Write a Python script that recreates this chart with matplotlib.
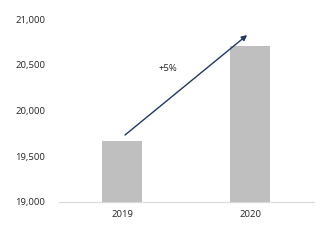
import matplotlib
matplotlib.use('Agg')
import matplotlib.pyplot as plt

plt.rcParams['font.family'] = ['Open Sans', 'DejaVu Sans']

years = ['2019', '2020']
values = [19670, 20705]
yticks = [19000, 19500, 20000, 20500, 21000]
growth_label = '+5%'

fig = plt.figure(figsize=(3.32, 2.41), dpi=100)
ax = fig.add_axes([0.178, 0.162, 0.768, 0.759])

x = list(range(len(years)))
ax.bar(x, values, width=0.31, color='#bfbfbf', zorder=2)

ax.set_xlim(-0.492, 1.5)
ax.set_ylim(19000, 21000)
ax.set_yticks(yticks)
ax.set_yticklabels(['{:,}'.format(v) for v in yticks], fontsize=6.8, color='#262626')
ax.set_xticks(x)
ax.set_xticklabels(years, fontsize=6.8, color='#262626')
ax.tick_params(axis='both', length=0)
ax.tick_params(axis='y', pad=10)
ax.tick_params(axis='x', pad=6)

for s in ['top', 'right', 'left']:
    ax.spines[s].set_visible(False)
ax.spines['bottom'].set_color('#d9d9d9')
ax.spines['bottom'].set_linewidth(0.8)

# growth arrow
ax.annotate('', xy=(0.977, 20825), xytext=(0.023, 19732),
            arrowprops=dict(arrowstyle='-|>', color='#203864', lw=1.0,
                            mutation_scale=8, shrinkA=0, shrinkB=0),
            zorder=3)
ax.text(0.36, 20464, growth_label, fontsize=6.8, color='#262626', ha='center', va='center')

fig.savefig('out.png', dpi=100)
